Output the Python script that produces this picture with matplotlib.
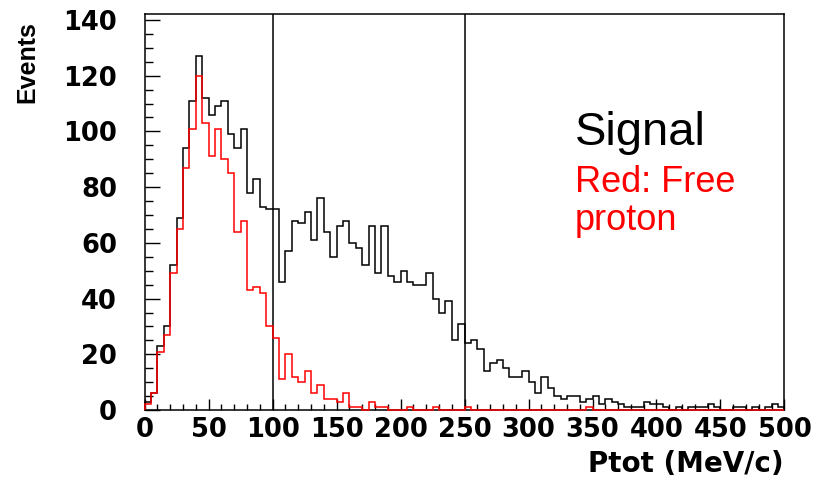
import numpy as np
import matplotlib
matplotlib.use('Agg')
import matplotlib.pyplot as plt
from matplotlib.ticker import MultipleLocator

### histogram contents, 5 MeV/c bins from 0 to 500
bin_edges = np.arange(0, 505, 5)

signal_all = [3, 6, 23, 30, 52, 69, 94, 111, 127, 112,
              106, 109, 111, 99, 94, 101, 78, 83, 73, 72,
              72, 46, 57, 68, 67, 71, 61, 76, 64, 55,
              66, 68, 60, 58, 52, 66, 49, 66, 48, 46,
              50, 46, 45, 45, 49, 40, 35, 39, 25, 31,
              24, 25, 22, 14, 17, 18, 15, 12, 12, 14,
              10, 6, 12, 8, 5, 4, 5, 5, 3, 4,
              5, 2, 4, 3, 2, 1, 1, 1, 3, 2,
              2, 1, 0, 1, 0, 1, 1, 1, 2, 1,
              0, 0, 1, 1, 0, 1, 0, 1, 2, 1]

free_proton = [2, 6, 21, 27, 49, 65, 87, 101, 120, 103,
               91, 101, 90, 85, 64, 68, 43, 44, 42, 30,
               26, 11, 20, 12, 10, 14, 6, 9, 4, 4,
               3, 6, 1, 1, 0, 3, 1, 1, 0, 0,
               0, 1, 0, 0, 0, 1, 0, 0, 0, 0,
               1, 0, 0, 0, 0, 0, 0, 0, 0, 0,
               0, 0, 0, 0, 0, 0, 0, 0, 0, 1,
               0, 0, 0, 0, 0, 0, 0, 0, 0, 0,
               0, 0, 0, 0, 0, 0, 0, 0, 0, 0,
               0, 0, 0, 0, 0, 0, 0, 0, 0, 0]

cut_lines = [100, 250]

fig = plt.figure(figsize=(8.15, 4.79), dpi=100)
ax = fig.add_axes([0.1775, 0.144, 0.785, 0.826])

ax.stairs(signal_all, bin_edges, color='black', lw=1.1, zorder=3, clip_on=False)
ax.stairs(free_proton, bin_edges, color='red', lw=1.1, zorder=4, clip_on=False)
for xc in cut_lines:
    ax.axvline(xc, color='black', lw=1.1, zorder=2)

ax.set_xlim(0, 500)
ax.set_ylim(0, 142)

ax.xaxis.set_major_locator(MultipleLocator(50))
ax.xaxis.set_minor_locator(MultipleLocator(10))
ax.yaxis.set_major_locator(MultipleLocator(20))
ax.yaxis.set_minor_locator(MultipleLocator(5))
ax.tick_params(axis='x', which='major', direction='in', length=8, width=1, pad=5)
ax.tick_params(axis='x', which='minor', direction='in', length=4, width=1)
ax.tick_params(axis='y', which='major', direction='in', length=11, width=1, pad=20)
ax.tick_params(axis='y', which='minor', direction='in', length=6, width=1)
for lab in ax.get_xticklabels() + ax.get_yticklabels():
    lab.set_fontfamily('DejaVu Sans')
    lab.set_fontweight('bold')
    lab.set_fontsize(18.5)
for sp in ax.spines.values():
    sp.set_linewidth(1.1)

fig.text(0.961, 0.015, 'Ptot (MeV/c)', ha='right', va='baseline',
         fontfamily='DejaVu Sans', fontweight='bold', fontsize=20)
fig.text(0.033, 0.87, 'Events', rotation=90, ha='center', va='center',
         fontfamily='Liberation Sans', fontweight='bold', fontsize=18)

ax.text(0.672, 0.670, 'Signal', transform=ax.transAxes, color='black',
        fontfamily='Liberation Sans', fontsize=34, va='baseline')
ax.text(0.672, 0.551, 'Red: Free', transform=ax.transAxes, color='red',
        fontfamily='Liberation Sans', fontsize=26, va='baseline')
ax.text(0.672, 0.455, 'proton', transform=ax.transAxes, color='red',
        fontfamily='Liberation Sans', fontsize=26, va='baseline')

fig.savefig('out.png', dpi=100)
